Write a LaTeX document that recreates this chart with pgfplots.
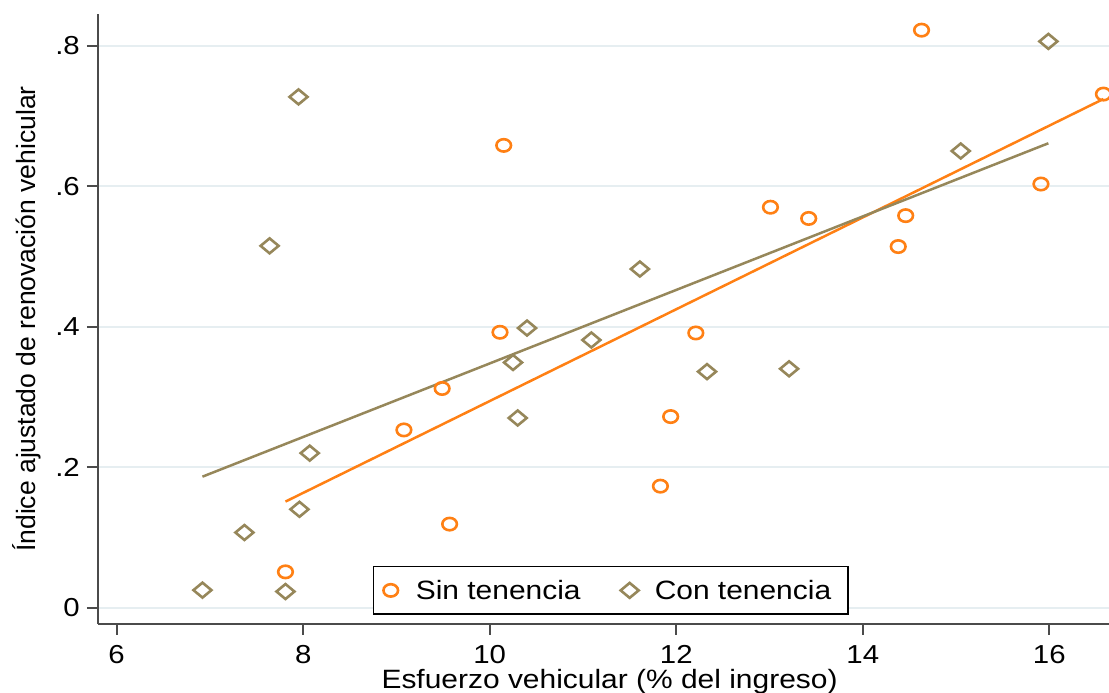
\documentclass[border=0pt]{standalone}
\usepackage{fontspec}
\setmainfont{Liberation Sans}[FakeStretch=1.13]
\newfontfamily\ylabfont{Liberation Sans}
\usepackage{pgfplots}
\pgfplotsset{compat=1.18}
\definecolor{sinc}{RGB}{255,128,20}
\definecolor{conc}{RGB}{150,135,90}
\definecolor{axc}{RGB}{75,75,75}
\definecolor{gridc}{RGB}{230,238,241}
\pgfdeclareplotmark{wdiamond}{%
 \pgfpathmoveto{\pgfqpoint{0pt}{.83\pgfplotmarksize}}%
 \pgfpathlineto{\pgfqpoint{\pgfplotmarksize}{0pt}}%
 \pgfpathlineto{\pgfqpoint{0pt}{-.83\pgfplotmarksize}}%
 \pgfpathlineto{\pgfqpoint{-\pgfplotmarksize}{0pt}}%
 \pgfpathclose\pgfusepathqstroke}
\pgfdeclareplotmark{ocirc}{%
 \pgfpathellipse{\pgfpointorigin}{\pgfqpoint{\pgfplotmarksize}{0pt}}{\pgfqpoint{0pt}{.85\pgfplotmarksize}}%
 \pgfusepathqstroke}
\begin{document}
\begin{tikzpicture}
\begin{axis}[
 at={(98pt,69pt)}, anchor=south west,
 scale only axis, width=1011pt, height=610pt,
 xmin=5.80, xmax=16.64, ymin=-0.0232, ymax=0.845,
 clip=false,
 axis x line=bottom, axis y line=left,
 axis line style={-, line width=2pt, color=axc},
 tick align=outside, major tick length=11pt,
 tick style={line width=2pt, color=axc},
 xtick={6,8,10,12,14,16}, xticklabels={6,8,10,12,14,16},
 ytick={0,0.2,0.4,0.6,0.8}, yticklabels={0,.2,.4,.6,.8},
 /pgf/number format/assume math mode=true,
 ymajorgrids, grid style={line width=2pt, color=gridc},
 ticklabel style={font=\fontsize{26}{30}\selectfont, inner sep=0pt, text=black},
 xticklabel shift=10pt, yticklabel shift=7pt,
 every axis y label/.style={at={(axis description cs:-0.0623,0.5)}, rotate=90, anchor=base},
 every axis x label/.style={at={(axis description cs:0.506,-0.1065)}, anchor=base},
 label style={font=\fontsize{26.5}{30}\selectfont},
 xlabel={Esfuerzo vehicular (\% del ingreso)},
 ylabel={\ylabfont Índice ajustado de renovación vehicular},
 legend columns=2,
 legend image code/.code={\path[draw=none] (0pt,-8pt) rectangle (0.1pt,8pt); \draw[overlay,#1] plot coordinates {(0pt,0pt)};},
 legend style={at={(0.272,0.01475)}, anchor=south west, draw=black, line width=1.5pt,
   inner xsep=17pt, inner ysep=13.5pt, font=\fontsize{26.5}{30}\selectfont,
   nodes={inner sep=0pt},
   /tikz/every odd column/.append style={column sep=25pt},
   /tikz/every even column/.append style={column sep=49pt}},
]
\addplot[only marks, mark=ocirc, mark size=7.3pt, color=sinc, line width=2.6pt] coordinates {
(7.81,0.051) (9.08,0.253) (9.49,0.312) (9.57,0.119) (10.11,0.392) (10.15,0.658)
(11.83,0.173) (11.94,0.272) (12.21,0.391) (13.01,0.570) (13.42,0.554) (14.38,0.514)
(14.46,0.558) (14.63,0.822) (15.91,0.603) (16.58,0.731)};
\addlegendentry{Sin tenencia}
\addplot[only marks, mark=wdiamond, mark size=9pt, color=conc, line width=2.6pt] coordinates {
(6.92,0.025) (7.37,0.107) (7.64,0.515) (7.81,0.023) (7.95,0.727) (7.96,0.140)
(8.07,0.220) (10.25,0.349) (10.30,0.270) (10.40,0.398) (11.09,0.381) (11.61,0.482)
(12.33,0.336) (13.21,0.340) (15.05,0.650) (15.99,0.806)};
\addlegendentry{Con tenencia}
\addplot[forget plot, no marks, color=sinc, line width=2.5pt] coordinates {(7.81,0.151) (16.58,0.724)};
\addplot[forget plot, no marks, color=conc, line width=2.5pt] coordinates {(6.92,0.1865) (15.99,0.661)};
\end{axis}
\pgfresetboundingbox
\useasboundingbox (0pt,0pt) rectangle (1109pt,693pt);
\end{tikzpicture}
\end{document}
